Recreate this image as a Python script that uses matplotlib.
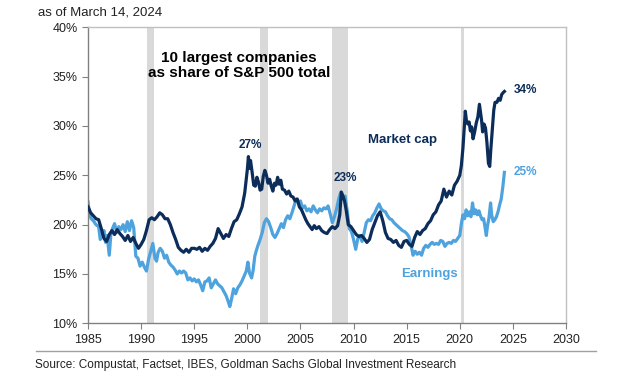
import matplotlib
matplotlib.use("Agg")
import matplotlib.pyplot as plt
from matplotlib.lines import Line2D

plt.rcParams['font.family'] = ['Liberation Sans', 'DejaVu Sans']

# top 10 share of S&P 500 market cap
mcap_years = [
    1985.00, 1985.25, 1985.50, 1985.75, 1986.00, 1986.25, 1986.50, 1986.75,
    1987.00, 1987.25, 1987.50, 1987.75, 1988.00, 1988.25, 1988.50, 1988.75,
    1989.00, 1989.25, 1989.50, 1989.75, 1990.00, 1990.25, 1990.50, 1990.75,
    1991.00, 1991.25, 1991.50, 1991.75, 1992.00, 1992.25, 1992.50, 1992.75,
    1993.00, 1993.25, 1993.50, 1993.75, 1994.00, 1994.25, 1994.50, 1994.75,
    1995.00, 1995.25, 1995.50, 1995.75, 1996.00, 1996.25, 1996.50, 1996.75,
    1997.00, 1997.25, 1997.50, 1997.75, 1998.00, 1998.25, 1998.50, 1998.75,
    1999.00, 1999.25, 1999.50, 1999.75,
    2000.00, 2000.10, 2000.20, 2000.30, 2000.45, 2000.60, 2000.75, 2000.90,
    2001.05, 2001.20, 2001.35, 2001.50, 2001.65, 2001.80, 2001.95, 2002.10,
    2002.25, 2002.40, 2002.55, 2002.70, 2002.85, 2003.00, 2003.15, 2003.30,
    2003.50, 2003.70, 2003.90, 2004.10, 2004.30, 2004.50, 2004.70, 2004.90,
    2005.10, 2005.30, 2005.50, 2005.70, 2005.90, 2006.10, 2006.30, 2006.50,
    2006.75, 2007.00, 2007.25, 2007.50, 2007.75, 2008.00, 2008.25, 2008.50,
    2008.70, 2008.85, 2009.00, 2009.15, 2009.30, 2009.50, 2009.75, 2010.00,
    2010.25, 2010.50, 2010.75, 2011.00, 2011.25, 2011.50, 2011.75, 2012.00,
    2012.25, 2012.50, 2012.75, 2013.00, 2013.25, 2013.50, 2013.75, 2014.00,
    2014.25, 2014.50, 2014.75, 2015.00, 2015.25, 2015.50, 2015.75, 2016.00,
    2016.25, 2016.50, 2016.75, 2017.00, 2017.25, 2017.50, 2017.75, 2018.00,
    2018.25, 2018.50, 2018.75, 2019.00, 2019.25, 2019.50, 2019.75,
    2020.00, 2020.15, 2020.30, 2020.42, 2020.52, 2020.62, 2020.75, 2020.88,
    2021.00, 2021.12, 2021.25, 2021.40, 2021.55, 2021.70, 2021.85, 2021.95,
    2022.05, 2022.15, 2022.28, 2022.42, 2022.55, 2022.70, 2022.82, 2022.92,
    2023.05, 2023.20, 2023.32, 2023.50, 2023.65, 2023.80, 2023.95, 2024.10,
    2024.20,
]
mcap_share = [
    21.8, 21.2, 20.9, 20.6, 20.5, 19.6, 18.6, 18.3,
    19.0, 19.4, 19.0, 19.5, 19.1, 18.8, 18.4, 18.9,
    18.3, 18.7, 18.1, 17.6, 18.0, 18.5, 19.4, 20.5,
    20.7, 20.5, 20.8, 21.2, 21.0, 20.6, 20.6, 20.0,
    19.2, 18.5, 17.7, 17.4, 17.2, 17.5, 17.2, 17.6,
    17.6, 17.5, 17.7, 17.3, 17.6, 17.4, 17.8, 18.1,
    18.6, 19.6, 19.1, 18.6, 19.0, 18.8, 19.6, 20.3,
    20.5, 21.1, 21.8, 23.2,
    25.6, 26.9, 25.7, 26.5, 25.3, 24.0, 23.9, 24.8,
    24.3, 23.5, 23.6, 24.9, 25.5, 25.0, 24.2, 24.6,
    23.9, 23.4, 24.2, 24.0, 24.8, 24.1, 24.5, 23.6,
    23.5, 23.1, 23.4, 22.9, 22.8, 22.4, 22.6, 21.8,
    21.5, 21.0, 20.5, 20.1, 19.8, 19.5, 19.9, 19.6,
    19.8, 19.4, 19.2, 19.1, 19.5, 19.8, 19.6, 19.9,
    21.0, 23.3, 22.9, 22.4, 21.5, 20.0, 19.8, 19.4,
    19.0, 18.8, 18.9, 18.6, 18.2, 18.5, 19.5, 20.2,
    20.9, 21.3, 20.4, 19.2, 18.6, 18.5, 18.2, 18.4,
    17.9, 17.7, 18.3, 18.4, 18.0, 17.8, 18.7, 19.3,
    19.0, 19.4, 19.6, 20.1, 20.4, 21.0, 21.3, 22.0,
    22.4, 23.6, 22.8, 23.4, 23.0, 24.0, 24.4,
    25.0, 26.0, 27.8, 29.8, 31.5, 30.6, 30.2, 30.4,
    29.5, 29.9, 28.7, 29.4, 30.3, 30.9, 32.2, 31.4,
    30.6, 29.4, 30.2, 29.8, 28.4, 26.2, 25.9, 27.6,
    29.5, 31.6, 32.4, 32.4, 32.8, 32.6, 33.2, 33.4,
    33.5,
]

# top 10 share of S&P 500 earnings
earn_years = [
    1985.00, 1985.15, 1985.30, 1985.50, 1985.75, 1986.00, 1986.15, 1986.30,
    1986.50, 1986.65, 1986.80, 1987.00, 1987.15, 1987.30, 1987.50, 1987.70,
    1987.90, 1988.10, 1988.30, 1988.50, 1988.70, 1988.90, 1989.10, 1989.30,
    1989.50, 1989.70, 1989.90, 1990.10, 1990.30, 1990.50, 1990.70, 1990.90,
    1991.10, 1991.30, 1991.45, 1991.60, 1991.80, 1992.00, 1992.20, 1992.40,
    1992.60, 1992.80, 1993.00, 1993.20, 1993.40, 1993.60, 1993.80, 1994.00,
    1994.20, 1994.40, 1994.60, 1994.80, 1995.00, 1995.20, 1995.40, 1995.60,
    1995.80, 1996.00, 1996.20, 1996.40, 1996.60, 1996.80, 1997.00, 1997.20,
    1997.40, 1997.60, 1997.80, 1998.00, 1998.20, 1998.35, 1998.50, 1998.70,
    1998.90, 1999.10, 1999.30, 1999.50, 1999.70, 1999.90, 2000.05, 2000.20,
    2000.40, 2000.55, 2000.70, 2000.85, 2001.00, 2001.20, 2001.40, 2001.60,
    2001.80, 2002.00, 2002.20, 2002.40, 2002.60, 2002.80, 2003.00, 2003.20,
    2003.40, 2003.60, 2003.80, 2004.00, 2004.20, 2004.40, 2004.60, 2004.80,
    2005.00, 2005.20, 2005.40, 2005.60, 2005.80, 2006.00, 2006.20, 2006.40,
    2006.60, 2006.80, 2007.00, 2007.20, 2007.40, 2007.60, 2007.80, 2008.00,
    2008.20, 2008.40, 2008.60, 2008.80, 2009.00, 2009.20, 2009.40, 2009.60,
    2009.80, 2010.00, 2010.20, 2010.40, 2010.60, 2010.80, 2011.00, 2011.20,
    2011.40, 2011.60, 2011.80, 2012.00, 2012.20, 2012.40, 2012.60, 2012.80,
    2013.00, 2013.20, 2013.40, 2013.60, 2013.80, 2014.00, 2014.20, 2014.40,
    2014.60, 2014.80, 2015.00, 2015.20, 2015.40, 2015.60, 2015.80, 2016.00,
    2016.20, 2016.40, 2016.60, 2016.80, 2017.00, 2017.20, 2017.40, 2017.60,
    2017.80, 2018.00, 2018.20, 2018.40, 2018.60, 2018.80, 2019.00, 2019.20,
    2019.40, 2019.60, 2019.80, 2020.00, 2020.15, 2020.30, 2020.45, 2020.60,
    2020.75, 2020.90, 2021.05, 2021.20, 2021.35, 2021.50, 2021.65, 2021.80,
    2021.95, 2022.10, 2022.25, 2022.40, 2022.50, 2022.60, 2022.75, 2022.90,
    2023.00, 2023.15, 2023.30, 2023.45, 2023.60, 2023.75, 2023.90, 2024.05,
    2024.20,
]
earn_share = [
    22.3, 21.0, 20.6, 20.4, 20.0, 19.8, 18.5, 18.9,
    19.4, 18.2, 18.9, 16.9, 19.0, 19.6, 20.1, 19.2,
    19.8, 19.5, 20.0, 19.3, 20.3, 19.4, 20.4, 19.7,
    16.8, 16.6, 15.8, 16.2, 15.7, 15.3, 16.5, 17.3,
    18.1, 16.6, 16.3, 17.2, 17.6, 17.3, 16.6, 16.9,
    16.2, 15.9, 15.7, 15.4, 15.0, 15.3, 15.1, 15.3,
    15.1, 14.4, 14.6, 14.3, 14.5, 14.2, 14.4, 13.9,
    13.3, 14.2, 14.3, 14.6, 13.6, 14.0, 14.4, 14.0,
    13.8, 13.6, 13.2, 12.8, 12.2, 11.7, 12.4, 13.5,
    13.0, 13.6, 13.9, 14.3, 14.8, 15.3, 16.2, 15.1,
    14.6, 15.4, 16.8, 17.4, 17.9, 18.5, 19.2, 20.2,
    20.6, 20.3, 19.7, 19.0, 18.7, 19.1, 19.6, 20.1,
    19.7, 20.5, 20.9, 20.6, 21.2, 21.9, 22.6, 22.2,
    22.4, 21.7, 21.9, 21.4, 21.6, 21.3, 21.9, 21.5,
    21.2, 21.6, 21.4, 21.7, 21.6, 21.9, 21.1, 20.2,
    20.8, 21.6, 22.6, 23.3, 22.6, 22.9, 21.4, 19.6,
    19.3, 18.5, 17.5, 18.6, 18.9, 18.3, 19.2, 20.2,
    20.5, 20.4, 20.9, 21.2, 21.7, 22.1, 21.6, 21.4,
    21.3, 20.9, 20.6, 20.5, 20.2, 20.0, 19.8, 19.6,
    19.4, 19.3, 19.1, 18.8, 18.0, 16.9, 17.3, 17.0,
    17.2, 16.9, 17.6, 17.9, 17.7, 18.0, 18.2, 18.0,
    18.1, 18.0, 18.4, 18.3, 17.8, 18.1, 18.2, 18.1,
    18.4, 18.3, 18.6, 18.9, 20.1, 21.0, 20.6, 21.5,
    20.9, 21.3, 20.8, 22.2, 21.1, 21.5, 21.0, 21.4,
    20.9, 20.5, 20.6, 19.6, 18.9, 19.8, 20.7, 22.2,
    21.0, 20.3, 20.5, 20.8, 21.3, 22.0, 22.6, 23.8,
    25.3,
]

# recession periods (start, end)
recessions = [(1990.55, 1991.25), (2001.2, 2001.95), (2007.95, 2009.5), (2020.15, 2020.4)]

year_ticks = [1985, 1990, 1995, 2000, 2005, 2010, 2015, 2020, 2025, 2030]
pct_ticks = [10, 15, 20, 25, 30, 35, 40]

navy = '#0c2d5a'
light = '#4ea3df'

fig = plt.figure(figsize=(6.23, 3.88), dpi=100)
ax = fig.add_axes([0.1413, 0.1667, 0.7672, 0.7629])

for start, end in recessions:
    ax.axvspan(start, end, color='#d9d9d9', lw=0, zorder=0)

ax.plot(earn_years, earn_share, color=light, lw=2.3, zorder=2)
ax.plot(mcap_years, mcap_share, color=navy, lw=2.3, zorder=3)

ax.set_xlim(1985, 2030)
ax.set_ylim(10, 40)
ax.set_xticks(year_ticks)
ax.set_yticks(pct_ticks)
ax.set_yticklabels([f'{t}%' for t in pct_ticks])
ax.tick_params(axis='both', labelsize=9, colors='#222222', length=4, width=0.8)
ax.tick_params(axis='both', color='#808080')

for side in ['left', 'bottom']:
    ax.spines[side].set_color('#808080')
    ax.spines[side].set_linewidth(1.0)
for side in ['top', 'right']:
    ax.spines[side].set_color('#c0c0c0')
    ax.spines[side].set_linewidth(1.0)

ax.text(1999.2, 36.1, '10 largest companies\nas share of S&P 500 total', ha='center', va='center',
        fontsize=11, fontweight='bold', color='black', linespacing=1.1)
ax.text(2000.3, 28.05, '27%', ha='center', va='center', fontsize=8.5, fontweight='bold', color=navy)
ax.text(2009.2, 24.7, '23%', ha='center', va='center', fontsize=8.5, fontweight='bold', color=navy)
ax.text(2025.1, 33.6, '34%', ha='left', va='center', fontsize=8.5, fontweight='bold', color=navy)
ax.text(2025.1, 25.3, '25%', ha='left', va='center', fontsize=8.5, fontweight='bold', color=light)
ax.text(2014.6, 28.6, 'Market cap', ha='center', va='center', fontsize=9.5, fontweight='bold', color=navy)
ax.text(2017.1, 15.0, 'Earnings', ha='center', va='center', fontsize=9.5, fontweight='bold', color=light)

fig.text(38 / 623, 0.969, 'as of March 14, 2024', ha='left', va='center', fontsize=9.5, color='#222222')
fig.add_artist(Line2D([0.058, 0.957], [0.0954, 0.0954], color='#a0a0a0', lw=1.0))
fig.text(35 / 623, 0.059, 'Source: Compustat, Factset, IBES, Goldman Sachs Global Investment Research',
         ha='left', va='center', fontsize=8.5, color='#222222')

fig.savefig('out.png', dpi=100)
